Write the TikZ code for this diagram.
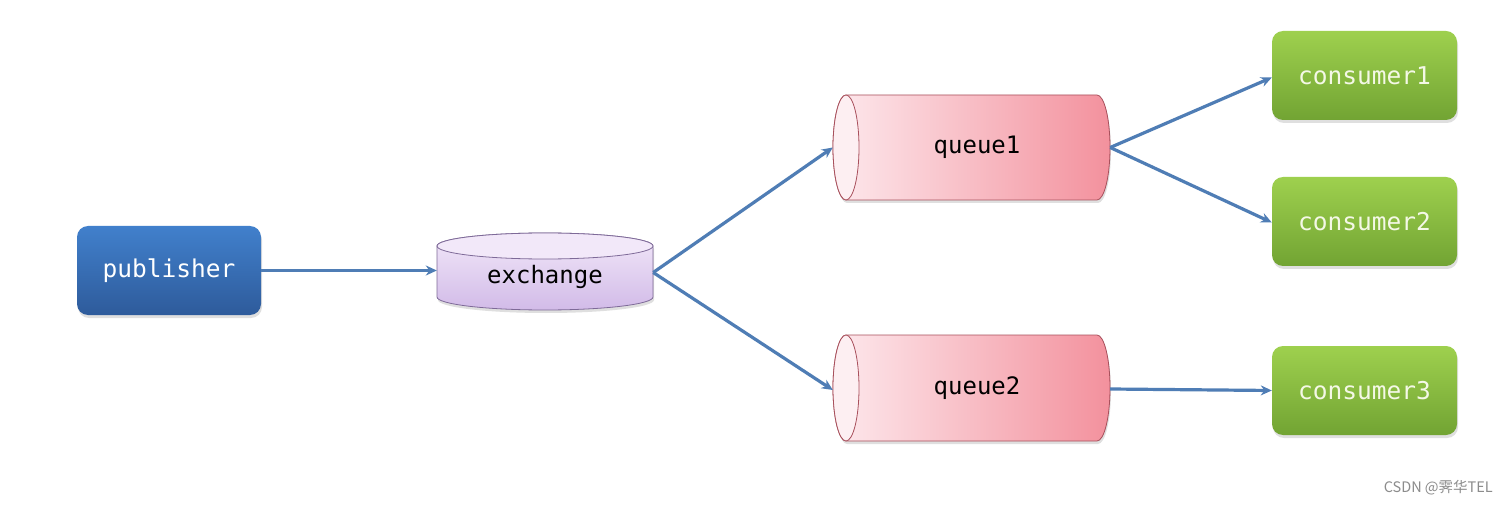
\documentclass[tikz,border=0pt]{standalone}
\usepackage{fontspec}
\setmonofont{DejaVu Sans Mono}
\newfontfamily\cjk{Noto Sans CJK SC}
\usetikzlibrary{arrows.meta,shadows}
\definecolor{arrowblue}{HTML}{4F7DB5}
\definecolor{pubtop}{HTML}{4180CC}
\definecolor{pubbot}{HTML}{2E5B9B}
\definecolor{contop}{HTML}{9ED04E}
\definecolor{conbot}{HTML}{72A433}
\definecolor{qleft}{HTML}{FDE9ED}
\definecolor{qright}{HTML}{F3919D}
\definecolor{qborder}{HTML}{A8505C}
\definecolor{qcap}{HTML}{FDEFF2}
\definecolor{extop}{HTML}{F2E8F9}
\definecolor{exbot}{HTML}{D2BBE8}
\definecolor{exborder}{HTML}{7E6A98}
\definecolor{contxt}{HTML}{F4F8E6}
\tikzset{
  boxshadow/.style={drop shadow={opacity=0.25,shadow xshift=1pt,shadow yshift=-3pt}},
  pubbox/.style={rounded corners=11pt,minimum width=184pt,minimum height=89pt,
    top color=pubtop,bottom color=pubbot,draw=none,boxshadow,
    text=white,font=\ttfamily\fontsize{24.5}{27}\selectfont},
  conbox/.style={rounded corners=11pt,minimum width=185pt,minimum height=89pt,
    top color=contop,bottom color=conbot,draw=none,boxshadow,
    text=contxt,font=\ttfamily\fontsize{24.5}{27}\selectfont},
  labelnode/.style={inner sep=0pt,text=black,font=\ttfamily\fontsize{24}{27}\selectfont},
  conn/.style={draw=arrowblue,line width=3.2pt,-{Stealth[length=11pt,width=10pt]}},
  queueshape/.style={left color=qleft,right color=qright,draw=qborder,line width=0.8pt},
  exshape/.style={top color=extop,bottom color=exbot,draw=exborder,line width=0.8pt}
}
\begin{document}
\begin{tikzpicture}[x=1pt,y=-1pt]
\useasboundingbox (0,0) rectangle (1508,505);
\fill[white] (0,0) rectangle (1508,505);

% publisher
\node[pubbox] (pub) at (169,270.5) {publisher};

% exchange cylinder
\path[exshape,boxshadow] (437,246) -- (437,297)
  arc[start angle=180,end angle=0,x radius=108,y radius=13]
  -- (653,246) arc[start angle=0,end angle=-180,x radius=108,y radius=13] -- cycle;
\path[fill=extop,draw=exborder,line width=0.8pt] (545,246) ellipse[x radius=108,y radius=13];
\node[labelnode,minimum width=216pt,minimum height=77pt] (exch) at (545,271.5) {};
\node[labelnode] at (545,277) {exchange};

% queue1
\path[queueshape,boxshadow] (846,95) -- (1097,95)
  arc[start angle=-90,end angle=90,x radius=13,y radius=52.5]
  -- (846,200) arc[start angle=90,end angle=270,x radius=13,y radius=52.5] -- cycle;
\path[fill=qcap,draw=qborder,line width=0.8pt] (846,147.5) ellipse[x radius=13,y radius=52.5];
\node[labelnode,minimum width=277pt,minimum height=105pt] (q1) at (971.5,147.5) {};
\node[labelnode] at (977,147) {queue1};

% queue2
\path[queueshape,boxshadow] (846,335) -- (1097,335)
  arc[start angle=-90,end angle=90,x radius=13,y radius=53]
  -- (846,441) arc[start angle=90,end angle=270,x radius=13,y radius=53] -- cycle;
\path[fill=qcap,draw=qborder,line width=0.8pt] (846,388) ellipse[x radius=13,y radius=53];
\node[labelnode,minimum width=277pt,minimum height=106pt] (q2) at (971.5,388) {};
\node[labelnode] at (977,388) {queue2};

% consumers
\node[conbox] (c1) at (1364.5,75.5) {consumer1};
\node[conbox] (c2) at (1364.5,221.5) {consumer2};
\node[conbox] (c3) at (1364.5,390.5) {consumer3};

% connectors
\draw[conn] (pub.east) -- (pub.east -| exch.west);
\draw[conn] ([yshift=-1pt]exch.east) -- (q1.west);
\draw[conn] ([yshift=-1pt]exch.east) -- ([yshift=-2pt]q2.west);
\draw[conn] (q1.east) -- ([yshift=-2pt]c1.west);
\draw[conn] (q1.east) -- ([yshift=-1pt]c2.west);
\draw[conn] ([yshift=-1pt]q2.east) -- (c3.west);

% watermark
\node[anchor=east,inner sep=0pt,text=black!45,font=\cjk\fontsize{14.5}{16}\selectfont] (wm) at (1493,488) {CSDN @霁华TEL};
\end{tikzpicture}
\end{document}
